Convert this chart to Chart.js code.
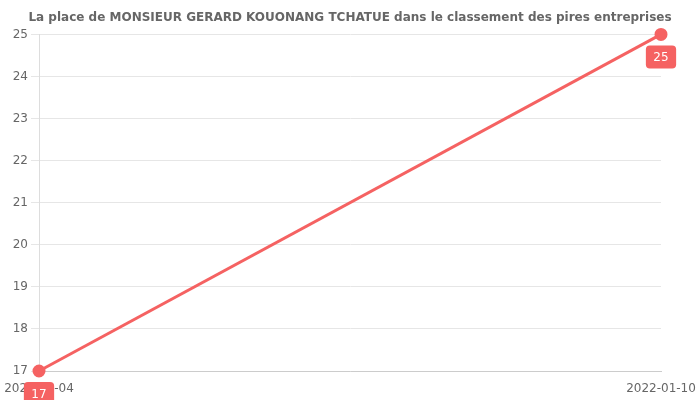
<!DOCTYPE html>
<html><head><meta charset="utf-8">
<script src="https://cdn.jsdelivr.net/npm/chart.js@4/dist/chart.umd.min.js"></script>
<style>html,body{margin:0;padding:0;background:#fff}#wrap{width:700px;height:400px}</style>
</head><body><div id="wrap"><canvas id="c"></canvas></div>
<script>
const categories = ["2021-10-04", "2022-01-10"];
const ranks = [17, 25];
const titleText = "La place de MONSIEUR GERARD KOUONANG TCHATUE dans le classement des pires entreprises";
const lineColor = "rgb(245,98,98)";

Chart.defaults.font.family = "'DejaVu Sans', sans-serif";
Chart.defaults.font.size = 12;
Chart.defaults.color = "#666";

const labelPlugin = {
  id: 'valLabels',
  afterDatasetsDraw(chart) {
    const ctx = chart.ctx;
    const meta = chart.getDatasetMeta(0);
    ctx.save();
    ctx.font = "12px 'DejaVu Sans', sans-serif";
    meta.data.forEach((pt, i) => {
      const txt = String(chart.data.datasets[0].data[i]);
      const w = ctx.measureText(txt).width + 15;
      const h = 23;
      const x = pt.x - w / 2;
      const y = pt.y + 11;
      ctx.fillStyle = lineColor;
      ctx.beginPath();
      ctx.roundRect(x, y, w, h, 4);
      ctx.fill();
      ctx.fillStyle = "#fff";
      ctx.textAlign = "center";
      ctx.textBaseline = "middle";
      ctx.fillText(txt, pt.x, y + h / 2 + 1);
    });
    ctx.restore();
  }
};

new Chart(document.getElementById('c'), {
  type: 'line',
  data: {
    labels: categories,
    datasets: [{
      data: ranks,
      borderColor: lineColor,
      backgroundColor: lineColor,
      borderWidth: 3,
      pointRadius: 5,
      pointHoverRadius: 5,
      tension: 0,
      fill: false,
      clip: false
    }]
  },
  options: {
    responsive: true,
    maintainAspectRatio: false,
    animation: false,
    layout: { padding: { left: 0, right: 0, top: 0, bottom: 0 } },
    plugins: {
      legend: { display: false },
      tooltip: { enabled: false },
      title: {
        display: true,
        text: titleText,
        color: "#666",
        font: { size: 12, weight: 'bold' },
        padding: { top: 11, bottom: 9 }
      }
    },
    scales: {
      x: {
        grid: { display: false },
        border: { display: true, color: "#ccc" },
        ticks: { color: "#666", maxRotation: 0, padding: 3 },
        afterFit(scale) { scale.height = 29; scale.paddingRight = 39; scale.paddingLeft = 0; }
      },
      y: {
        min: 17, max: 25,
        grid: { color: "#e6e6e6", tickLength: 8 },
        border: { display: true, color: "#ddd" },
        ticks: { stepSize: 1, color: "#666", padding: 3 },
        afterFit(scale) { scale.width = 39; }
      }
    }
  },
  plugins: [labelPlugin]
});
</script></body></html>
